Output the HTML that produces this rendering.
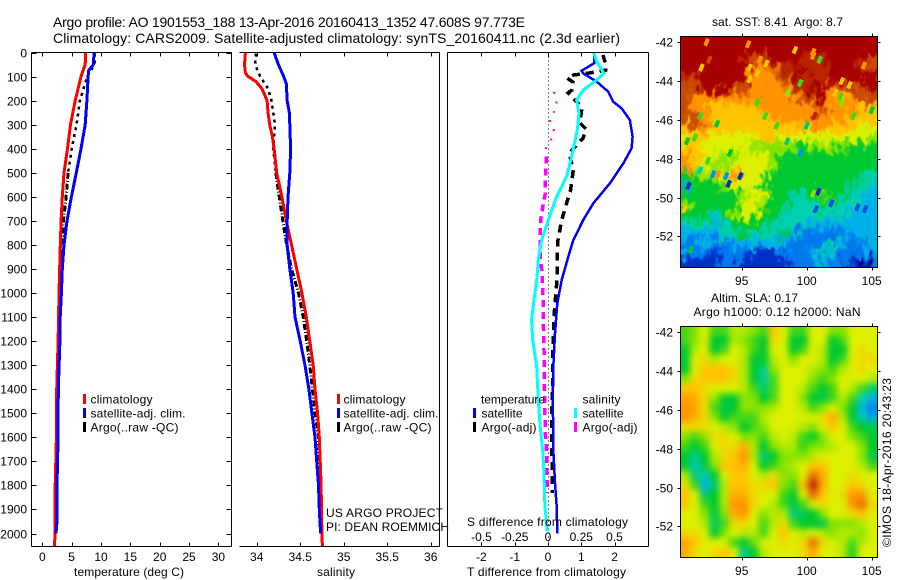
<!DOCTYPE html>
<html lang="en">
<head>
<meta charset="utf-8">
<title>Argo profile 1901553_188</title>
<style>
html,body{margin:0;padding:0;background:#fff;}
svg{display:block;}
text{font-family:"Liberation Sans",sans-serif;font-size:12px;fill:#000;}
</style>
</head>
<body>
<svg id="fig" xmlns="http://www.w3.org/2000/svg" width="900" height="580" viewBox="0 0 900 580">
<defs>
<clipPath id="clip-sst"><rect x="681" y="37" width="196" height="230"/></clipPath>
<clipPath id="clip-sla"><rect x="681" y="326" width="196" height="231"/></clipPath>
<filter id="blur-sst" x="-5%" y="-5%" width="110%" height="110%" color-interpolation-filters="sRGB">
<feGaussianBlur stdDeviation="2" result="soft"/>
<feTurbulence type="fractalNoise" baseFrequency="0.16 0.1" numOctaves="2" seed="7" result="noise"/>
<feDisplacementMap in="soft" in2="noise" scale="26" xChannelSelector="R" yChannelSelector="G"/>
</filter>
<filter id="blur-sla" x="-5%" y="-5%" width="110%" height="110%" color-interpolation-filters="sRGB"><feGaussianBlur stdDeviation="3.5"/></filter>
</defs>
<rect width="900" height="580" fill="#fff"/>
<text x="53" y="27" style="font-size:14px" textLength="472" lengthAdjust="spacing">Argo profile: AO 1901553_188 13-Apr-2016 20160413_1352 47.608S 97.773E</text>
<text x="53" y="43" style="font-size:14px" textLength="567" lengthAdjust="spacing">Climatology: CARS2009. Satellite-adjusted climatology: synTS_20160411.nc (2.3d earlier)</text>

<text x="74" y="576" textLength="110">temperature (deg C)</text>
<text x="317" y="576" textLength="38">salinity</text>
<text x="467" y="576" textLength="159">T difference from climatology</text>
<text x="326" y="517" textLength="117">US ARGO PROJECT</text>
<text x="326" y="531" textLength="123">PI: DEAN ROEMMICH</text>

<g>
<rect x="83" y="394" width="3" height="10" fill="#ff0000"/>
<text x="90.5" y="403.5" textLength="62">climatology</text>
<rect x="83" y="408" width="3" height="10" fill="#0000ff"/>
<text x="90.5" y="417.5" textLength="95">satellite-adj. clim.</text>
<rect x="83" y="422" width="3" height="10" fill="#000"/>
<text x="90.5" y="431.5" textLength="88">Argo(..raw -QC)</text>
</g>
<g>
<rect x="337" y="394" width="3" height="10" fill="#ff0000"/>
<text x="343.5" y="403.5" textLength="62">climatology</text>
<rect x="337" y="408" width="3" height="10" fill="#0000ff"/>
<text x="343.5" y="417.5" textLength="95">satellite-adj. clim.</text>
<rect x="337" y="422" width="3" height="10" fill="#000"/>
<text x="343.5" y="431.5" textLength="88">Argo(..raw -QC)</text>
</g>

<g id="lines"></g>

<text x="467" y="526" textLength="161">S difference from climatology</text>
<g>
<text x="481" y="403.5" textLength="64">temperature</text>
<rect x="473" y="408" width="3" height="10" fill="#0000ff"/>
<text x="481.5" y="417.5" textLength="41">satellite</text>
<rect x="473" y="422" width="3" height="10" fill="#000"/>
<text x="481.5" y="431.5" textLength="55">Argo(-adj)</text>
<text x="582.5" y="403.5" textLength="38">salinity</text>
<rect x="574" y="408" width="3" height="10" fill="#00ffff"/>
<text x="582.5" y="417.5" textLength="41">satellite</text>
<rect x="574" y="422" width="3" height="10" fill="#ff00ff"/>
<text x="582.5" y="431.5" textLength="55">Argo(-adj)</text>
</g>

<text x="712" y="26" textLength="131" style="white-space:pre">sat. SST: 8.41  Argo: 8.7</text>
<text x="711" y="302" textLength="87">Altim. SLA: 0.17</text>
<text x="693.5" y="316" textLength="167">Argo h1000: 0.12 h2000: NaN</text>
<text transform="translate(891 547) rotate(-90)" textLength="169">©IMOS 18-Apr-2016 20:43:23</text>
</svg>
<script>
// ---------- profile data (depth in dbar, temperature in deg C, salinity in psu) ----------
const depthTicks = [0,100,200,300,400,500,600,700,800,900,1000,1100,1200,1300,1400,1500,1600,1700,1800,1900,2000];
const tempTicks = [0,5,10,15,20,25,30];
const salTicks = [34,34.5,35,35.5,36];
const salTickLabels = ['34','34.5','35','35.5','36'];
const tDiffTicks = [-2,-1,0,1,2];
const sDiffTicks = [-0.5,-0.25,0,0.25,0.5];
const sDiffTickLabels = ['-0.5','-0.25','0','0.25','0.5'];

const climTempDepth = [0,50,100,200,300,400,500,600,700,800,1000,1200,1400,1600,1800,2000,2053];
const climTemp = [7.4,7.3,6.6,5.6,4.8,4.3,3.7,3.4,3.2,3.07,2.85,2.7,2.45,2.4,2.2,2.15,2.1];
const satTempDepth = [0,50,75,100,200,300,400,500,600,700,800,900,1000,1100,1200,1400,1600,1800,1950,2000];
const satTemp = [8.8,8.7,7.9,7.8,7.6,7.3,6.6,5.8,4.95,4.2,3.7,3.4,3.25,3.05,3.0,2.73,2.7,2.5,2.5,2.33];
const argoTempDepth = [5,50,100,200,300,400,500,600,700,800,900,1000,1100,1200,1400,1600,1800,1850];
const argoTemp = [8.9,8.9,7.65,6.4,5.85,5.0,4.4,4.05,3.6,3.4,3.2,3.0,2.9,2.8,2.6,2.45,2.35,2.3];

const climSalDepth = [0,50,85,100,120,150,200,250,300,350,400,500,600,700,800,900,1000,1100,1200,1300,1400,1500,1600,1700,1800,2000,2053];
const climSal = [33.87,33.86,33.87,33.9,33.99,34.06,34.12,34.13,34.15,34.18,34.2,34.23,34.29,34.34,34.4,34.46,34.52,34.57,34.61,34.65,34.67,34.7,34.72,34.73,34.74,34.75,34.755];
const satSalDepth = [0,50,100,130,200,250,300,400,500,600,700,800,900,1000,1100,1200,1300,1400,1500,1600,1700,1800,1900,2000];
const satSal = [34.2,34.25,34.31,34.34,34.35,34.375,34.38,34.39,34.38,34.36,34.35,34.35,34.38,34.42,34.44,34.5,34.555,34.6,34.635,34.67,34.69,34.71,34.72,34.735];
const argoSalDepth = [5,50,100,150,200,300,400,500,600,700,800,900,1000,1100,1200,1300,1400,1500,1600,1700,1800,1850];
const argoSal = [33.99,33.98,34.04,34.13,34.17,34.21,34.19,34.22,34.26,34.3,34.345,34.4,34.48,34.535,34.575,34.61,34.64,34.67,34.71,34.72,34.735,34.74];

const satTDiffDepth = [3,45,76,87,121,163,205,232,281,350,398,461,544,627,696,780,849,946,1043,1168,1306,1445,1583,1653,1791,1888,2000];
const satTDiff = [1.38,1.38,1.01,1.06,1.46,1.81,1.96,2.21,2.46,2.54,2.51,2.26,1.86,1.36,1.06,0.76,0.61,0.41,0.28,0.21,0.16,0.14,0.16,0.16,0.21,0.26,0.28];
const argoTDiffDepth = [10,52,73,85,94,106,123,156,168,198,227,293,318,356,393,418,489,572,627,696,780,863,946,1043,1099,1237,1376,1514,1639,1749,1832];
const argoTDiff = [1.65,1.74,1.74,1.26,0.75,0.57,0.75,0.72,0.6,0.81,1.02,0.96,1.14,1.05,0.81,0.63,0.76,0.68,0.56,0.41,0.3,0.27,0.27,0.21,0.18,0.15,0.14,0.11,0.11,0.13,0.13];
const satSDiffDepth = [3,38,87,114,156,198,253,322,433,516,600,696,780,863,946,1029,1112,1196,1306,1445,1549,1653,1749,1888,1930,1992];
const satSDiff = [0.346,0.366,0.421,0.366,0.266,0.215,0.233,0.22,0.178,0.14,0.065,0.002,-0.048,-0.073,-0.085,-0.105,-0.123,-0.115,-0.085,-0.073,-0.06,-0.04,-0.03,-0.023,-0.015,-0.005];
const argoSDiffDepth = [164,193,225,253,283,313,343,372,402,433,475,530,586,634,696,766,850,904,987,1056,1112,1237,1348,1459,1583,1653,1708,1832];
const argoSDiff = [0.045,0.06,0.065,0.04,0.015,0.045,0.04,0.015,-0.02,-0.015,-0.015,-0.02,-0.02,-0.037,-0.055,-0.06,-0.06,-0.047,-0.04,-0.035,-0.035,-0.03,-0.028,-0.025,-0.02,-0.012,-0.01,-0.005];

// ---------- map data (colour-scale level per cell: 0 = coldest/lowest, 11 = warmest/highest) ----------
const mapLonTicks = [95,100,105];
const mapLatTicks = [-42,-44,-46,-48,-50,-52];
const sstLevels = [
[11,11,11,11,11,11,11,11,11,11,11,11,11,11,11,11,11,11,11,11],
[11,11,11,11,11,11,11,11,11,11,11,11,11,11,11,11,11,11,11,11],
[11,11,11,11,11,11,10.5,10,10,11,11,11,10.5,10.5,10.5,11,11,11,10.5,10],
[11,11,11,11,11,11,11,9,9,9.5,10.5,10.5,11,10.5,10.5,11,11,11,10.5,10],
[10.5,10,11,11,11,11,11,9,9,9,10,11,10.5,10.5,10.5,11,11,11,11,11],
[10,10,11,11,11,10,10,9,9,9,9,10,10.5,11,11,9,10,10,10,11],
[10,9,9,9,9,9,9,9,9,9,9,9,10,10,11,9,8,9,10,10],
[10,9,9,8,8,8,8,8,9,9,9,9,9,9,10,9,9,9,8,8],
[10,10,9,8,8,8,8,8,8,9,9,9,9,10,9,9,9,8,8,8],
[8,10,9,8,8,8,8,8,8,8,8,8,8,9,9,8,8,8,7,7],
[7,8,8,7,7,7,7,7,8,8,7,7,7,7,7,7,7,7,7,6],
[8,8,7,7,7,7,7,6,6,6,6,6,5,6,6,6,6,5,5,5],
[9,8,7,7,6,6,7,7,7,6,5,5,5,5,5,5,5,5,5,5],
[9,8,7,6,6,7,7,7,7,6,5,5,5,5,5,5,5,5,5,5],
[5,6,6,6,7,9,7,7,7,5,5,5,5,5,5,5,5,5,4.5,4],
[3,5,5,5,6,7,7,7,5,5,5,5,5,5,5,5,5,4.5,4,3.5],
[5,5,5,5,5,5,6,7,7,5,5,4,4,5,6,5,5,4,4,3],
[6,5,5,5,5,5,7,7,6,5,5,4,4,4,5,4,4,4,3,3],
[5,5,5,4,5,6,7,7,5,5,4,4,4,4,4,4,4,3,3,3],
[4,4,4,3,4,5,5,5,5,4,4,4,4,3,3,3,3,3,3,3],
[3,3,3,3,4,4,5,4,4,4,5,3,2,2,2,2,2,3,3,3],
[2,2,3,2,2,3,3,3,3,3,3,2,2,2,2,4,3,2,2,3],
[3,2,2,1,2,2,2,1,1,1,2,2,2,3,4,3,2,2,2,3],
[1,1,1,1,2,2,1,1,1,1,1,2,2,2,3,2,2,1,0,2]
];
const sstSpeckLon = [92.3,95.5,99.1,100.5,95.6,96.4,96.9,91.9,101,100.5,99.5,95.6,96.2,102.7,103.3,102.6,102.2,98.6,96.2,96.8,93.1,91.8,97.7,100,100.6,90.8,91.4,105,103.6,102.7,94.1,99.5,98.5,92.8,93.2,93.8,94,94.9,90.9,91.8,92.4,100.9,101.9,100.7,103.9,104.5,100.5,90.6,91.1,92.5,104.4];
const sstSpeckLat = [-42,-42.1,-42.4,-42.5,-43.3,-42.9,-43.1,-43.3,-42.9,-42.7,-44.1,-43.9,-43.6,-44,-44.2,-44.8,-44.6,-44.6,-45.1,-45.8,-46.2,-45.8,-46.3,-46.3,-45.8,-47.1,-46.9,-45.5,-45.8,-45.1,-47.7,-47.7,-47.1,-48.8,-48.8,-48.9,-49.3,-48.9,-49.4,-48.6,-48.1,-49.7,-50.3,-50.6,-50.5,-50.6,-49.8,-50.6,-52.7,-42.9,-43.2];
const sstSpeckLevel = [9,9,8,9,8,9,8,8,5.5,9,5.5,8,8,8,8,5.5,8,6,5.5,5.5,5,5.5,5.5,4.6,10.5,5,5.5,5,5.5,6,5,2.5,4.5,2.5,9,2.5,1,1,1,4,5.5,1,1.5,1.5,1.5,1.5,6,8,5,10,9];
const slaLevels = [
[5.5,6,7,5.5,5.5,6.5,6.5,6,5.5,8,7,5.5,5.5,7,7,6,6,7,7,7],
[5.5,6,7,5,5,6.5,6,5.5,5,7.5,7,5,5,7,7,5,5.5,7,7,7],
[5,6.5,7,5,5.5,7,6.5,5.5,5,7,7,5,5.5,7,6.5,5,5,7,7.5,7],
[5,7,7.5,6.5,7,7,6.5,5,5,6.5,7,6,7,7,6.5,5,5.5,7,7.5,7.5],
[5,7,8,8,8,7.5,6.5,5,4.3,6,7,7,7,6.5,6,5.5,6.5,7,7.5,7],
[6,7.5,8,8,8,7.5,6.5,5,4.2,5.5,7,7,7,6,5.5,6,7,7,7,6.5],
[8,8,7.5,7,7,7,6.5,5.5,4.5,5.5,7,7,6.5,5.5,5,5.5,7,6.5,5.5,4.5],
[8.7,8.5,7.5,6,5,5,6,6,5,5.5,7,7,6,5,4.8,5.5,6.5,5.5,4,3],
[9,8.7,7.5,5.5,4.8,5,6,6,6,6.5,7,7,6.5,5.5,6,7,6,5,3.2,2.2],
[9,8.5,7.5,6,5,5.5,5.5,5.5,6.5,7,7,7,7,7,7.5,8.5,6.5,5,3.8,2.8],
[7.5,7.5,7.5,7,6.5,6,5,5.5,6,7,7,7,6.5,6,7,8,7,5.5,5,4.8],
[6,5.5,6,7.5,7.5,7,6,6,5.5,6.5,7,6.5,5.5,5,6,7,7,6,5.5,5],
[5.5,5,5.5,7,7.5,7.5,8.5,6.5,5,6,6.5,6.5,5.3,6,6,6.5,7,7,6,5],
[5,4.3,5,6.5,7.5,8,9,6.5,4.5,5,6,6,6,6.5,7,7,7,7,6,4.8],
[5,3.8,4.8,6,8,8,8.5,7,5,5.5,6,6.5,7,8,8,7,7,7,6.5,5.5],
[6.5,4.5,3.8,5,7,8,8,7,6.5,7.5,6,6,7,9.5,8.5,7,7,7.5,7,7],
[7.5,5.5,3,4.5,6.5,8,8,7.5,7.5,8,6,5.5,8,10.5,8.5,7,7,8,7.5,7],
[8,7,4.5,5,6.5,8.5,8.5,7.5,7,7,5.5,5,7,9.5,8,7,7.5,9,9,7],
[8,7,5.5,5,6.5,9,9,7.5,7,6.5,5.5,4.8,5.5,7,7.5,7,7,9,9.5,7.5],
[7,7,6,4.8,6,8.5,9,7,6,6.5,6.5,4.3,4.8,5,6,7,7,7.5,8,7],
[7,7,6.5,4.6,5.5,7.5,7.5,7,5.5,6.5,7.5,5.5,5,5,4.8,6,6,6,6.5,7],
[7.5,7.5,7,5,6,7,6.5,6.5,5.5,7,8,7,6.5,7,6.5,6,6.5,6.5,6,7],
[8.7,8,7,7,7,5.5,5,5.8,7,7,7.5,7,7.5,9.5,7.5,7,6.5,5.5,6.5,7],
[8.5,7.5,7,7.5,8,7,4.3,5,6.5,7,7,7,7.5,8.5,7,7,6.5,5.2,7,7]
];
const levelColours = ['#000090','#0030c8','#0078ee','#00b0e8','#00d0b0','#00c830','#88e400','#dcf000','#ffc400','#ff9400','#cc4a00','#a80000'];

// ---------- axis functions ----------
const svgNS = 'http://www.w3.org/2000/svg';
const root = document.getElementById('lines');
const depthY = d => 52.5 + d * 0.2405;
const tempX = t => 42.3 + t * 5.87;
const salX = s => 256.7 + (s - 34) * 87;
const tDiffX = v => 548 + v * 33.3;
const sDiffX = v => 548 + v * 133;
const mapLonX = lon => 741.7 + (lon - 95) * 13;
const sstLatY = lat => 42.3 + (-42 - lat) * 19.4;
const slaLatY = lat => 332.3 + (-42 - lat) * 19.4;

function mk(tag, attrs, name, parent) {
  const el = document.createElementNS(svgNS, tag);
  for (const k in attrs) el.setAttribute(k, attrs[k]);
  
  
  (parent || root).appendChild(el);
  return el;
}
function label(str, x, y, anchor, name, parent) {
  const t = mk('text', {x: x, y: y, 'text-anchor': anchor}, name, parent);
  t.textContent = str;
  return t;
}
function seg(x1, y1, x2, y2, name, parent) {
  return mk('line', {x1: x1, y1: y1, x2: x2, y2: y2, stroke: '#000', 'stroke-width': 1, 'shape-rendering': 'crispEdges'}, name, parent);
}
function series(values, depths, xFn, colour, width, dash, name, lo, hi) {
  const pts = [];
  values.forEach((v, i) => {
    if (depths[i] >= lo && depths[i] <= hi) pts.push(xFn(v).toFixed(1) + ',' + depthY(depths[i]).toFixed(1));
  });
  const a = {points: pts.join(' '), fill: 'none', stroke: colour, 'stroke-width': width, 'shape-rendering': 'crispEdges'};
  if (dash) a['stroke-dasharray'] = dash;
  return mk('polyline', a, name);
}
function levelColour(v) {
  const c = Math.max(0, Math.min(levelColours.length - 1, v));
  const i = Math.min(levelColours.length - 2, Math.floor(c));
  const f = c - i;
  const p = h => [1, 3, 5].map(o => parseInt(h.substr(o, 2), 16));
  const a = p(levelColours[i]), b = p(levelColours[i + 1]);
  return 'rgb(' + a.map((x, k) => Math.round(x + (b[k] - x) * f)).join(',') + ')';
}

// ---------- profile panels ----------
const TOP = 52.5, BOTTOM = 546.5;
function panelFrame(left, right, hasLeft, name) {
  const g = mk('g', {}, name);
  seg(left, TOP, right, TOP, 'top-axis-line', g);
  seg(left, BOTTOM, right, BOTTOM, 'bottom-axis-line', g);
  seg(right, TOP, right, BOTTOM, 'right-axis-line', g);
  if (hasLeft) seg(left, TOP, left, BOTTOM, 'left-axis-line', g);
  return g;
}
function xTicks(g, ticks, labels, xFn, y, name) {
  ticks.forEach((t, i) => {
    const x = Math.round(xFn(t)) + 0.5;
    seg(x, TOP, x, TOP + 4, name + '-top-tick', g);
    seg(x, BOTTOM - 4, x, BOTTOM, name + '-bottom-tick', g);
    label(labels[i], xFn(t), y, 'middle', name + '-tick-label', g);
  });
}

const p1 = panelFrame(31.5, 231.5, true, 'temperature-panel');
depthTicks.forEach(d => {
  const y = Math.round(depthY(d)) + 0.5;
  seg(31.5, y, 36.5, y, 'depth-left-tick', p1);
  seg(226.5, y, 231.5, y, 'depth-right-tick', p1);
  label(String(d), 27, y + 4, 'end', 'depth-tick-label', p1);
});
xTicks(p1, tempTicks, tempTicks.map(String), tempX, 561, 'temperature');

series(argoTemp, argoTempDepth, tempX, '#000', 2.5, '3 4', 'argo-temperature-shallow', 0, 500);
series(argoTemp, argoTempDepth, tempX, '#000', 3, '6 2 1 2', 'argo-temperature-deep', 500, 2100);
series(climTemp, climTempDepth, tempX, '#ff0000', 3, null, 'climatology-temperature', 0, 2100);
series(satTemp, satTempDepth, tempX, '#0000ff', 3, null, 'satellite-temperature', 0, 2100);

const p2 = panelFrame(239.5, 439.5, false, 'salinity-panel');
xTicks(p2, salTicks, salTickLabels, salX, 561, 'salinity');
series(argoSal, argoSalDepth, salX, '#000', 2.5, '3 4', 'argo-salinity-shallow', 0, 500);
series(argoSal, argoSalDepth, salX, '#000', 3, '6 2 1 2', 'argo-salinity-deep', 500, 2100);
series(climSal, climSalDepth, salX, '#ff0000', 3, null, 'climatology-salinity', 0, 2100);
series(satSal, satSalDepth, salX, '#0000ff', 3, null, 'satellite-salinity', 0, 2100);

const p3 = panelFrame(447.5, 648.5, true, 'difference-panel');
xTicks(p3, tDiffTicks, tDiffTicks.map(String), tDiffX, 561, 't-difference');
mk('line', {x1: Math.floor(tDiffX(0)) + 0.5, y1: TOP, x2: Math.floor(tDiffX(0)) + 0.5, y2: BOTTOM, stroke: '#000', 'stroke-width': 1, 'stroke-dasharray': '1 3', 'shape-rendering': 'crispEdges'}, 'zero-difference-line');
series(argoTDiff, argoTDiffDepth, tDiffX, '#000', 3.5, '8 6', 'argo-t-difference', 0, 2100);
series(satTDiff, satTDiffDepth, tDiffX, '#0000ff', 2.5, null, 'satellite-t-difference', 0, 2100);
series(argoSDiff, argoSDiffDepth, sDiffX, '#ff00ff', 2, '2 8', 'argo-s-difference-shallow', 0, 420);
series(argoSDiff, argoSDiffDepth, sDiffX, '#ff00ff', 3.5, '7 5', 'argo-s-difference-deep', 420, 2100);
series(satSDiff, satSDiffDepth, sDiffX, '#00ffff', 3, null, 'satellite-s-difference', 0, 2100);
sDiffTicks.forEach((t, i) => label(sDiffTickLabels[i], sDiffX(t), 541, 'middle', 's-difference-tick-label', p3));
p3.parentNode.appendChild(p3);

// ---------- maps ----------
const LON_MIN = 90.25, LON_MAX = 105.4, LAT_MAX = -41.66, LAT_MIN = -53.6;
function heatmap(levels, latY, clipId, filterId, name) {
  const clip = mk('g', {'clip-path': 'url(#' + clipId + ')'}, name);
  const g = mk('g', {filter: 'url(#' + filterId + ')'}, name + '-cells', clip);
  const rows = levels.length;
  levels.forEach((row, r) => {
    const cols = row.length;
    row.forEach((v, c) => {
      let x0 = mapLonX(LON_MIN + (LON_MAX - LON_MIN) * c / cols);
      let x1 = mapLonX(LON_MIN + (LON_MAX - LON_MIN) * (c + 1) / cols);
      let y0 = latY(LAT_MAX - (LAT_MAX - LAT_MIN) * r / rows);
      let y1 = latY(LAT_MAX - (LAT_MAX - LAT_MIN) * (r + 1) / rows);
      if (c === 0) x0 -= 30;
      if (c === cols - 1) x1 += 30;
      if (r === 0) y0 -= 30;
      if (r === rows - 1) y1 += 30;
      mk('rect', {x: x0.toFixed(1), y: y0.toFixed(1), width: (x1 - x0 + 0.6).toFixed(1), height: (y1 - y0 + 0.6).toFixed(1), fill: levelColour(v), 'shape-rendering': 'crispEdges'}, 'heatmap-cell', g);
    });
  });
  return clip;
}
function mapFrame(latY, name, labelY) {
  const g = mk('g', {}, name);
  const t = Math.round(latY(LAT_MAX)) + 0.5, b = Math.round(latY(LAT_MIN)) + 0.5;
  const l = 680.5, r = 877.5;
  mk('rect', {x: l, y: t, width: r - l, height: b - t, fill: 'none', stroke: '#000', 'stroke-width': 1, 'shape-rendering': 'crispEdges'}, 'map-frame', g);
  mapLonTicks.forEach(lon => {
    const x = Math.round(mapLonX(lon)) + 0.5;
    seg(x, t - 3, x, t, 'map-top-tick', g);
    seg(x, b, x, b + 3, 'map-bottom-tick', g);
    label(String(lon), mapLonX(lon), labelY, 'middle', 'map-longitude-label', g);
  });
  mapLatTicks.forEach(lat => {
    const y = Math.round(latY(lat)) + 0.5;
    seg(l - 3, y, l, y, 'map-left-tick', g);
    seg(r, y, r + 3, y, 'map-right-tick', g);
    label(String(lat), 673, y + 4, 'end', 'map-latitude-label', g);
  });
}

const sstClip = heatmap(sstLevels, sstLatY, 'clip-sst', 'blur-sst', 'sst-heatmap');
sstSpeckLon.forEach((lon, i) => {
  const x = mapLonX(lon), y = sstLatY(sstSpeckLat[i]);
  mk('line', {x1: x - 1.5, y1: y + 3.5, x2: x + 1.5, y2: y - 3.5, stroke: levelColour(sstSpeckLevel[i]), 'stroke-width': 4, 'shape-rendering': 'crispEdges'}, 'sst-speckle', sstClip);
});
mapFrame(sstLatY, 'sst-map-axes', 285);
heatmap(slaLevels, slaLatY, 'clip-sla', 'blur-sla', 'sla-heatmap');
mapFrame(slaLatY, 'sla-map-axes', 575);
</script>
</body>
</html>
